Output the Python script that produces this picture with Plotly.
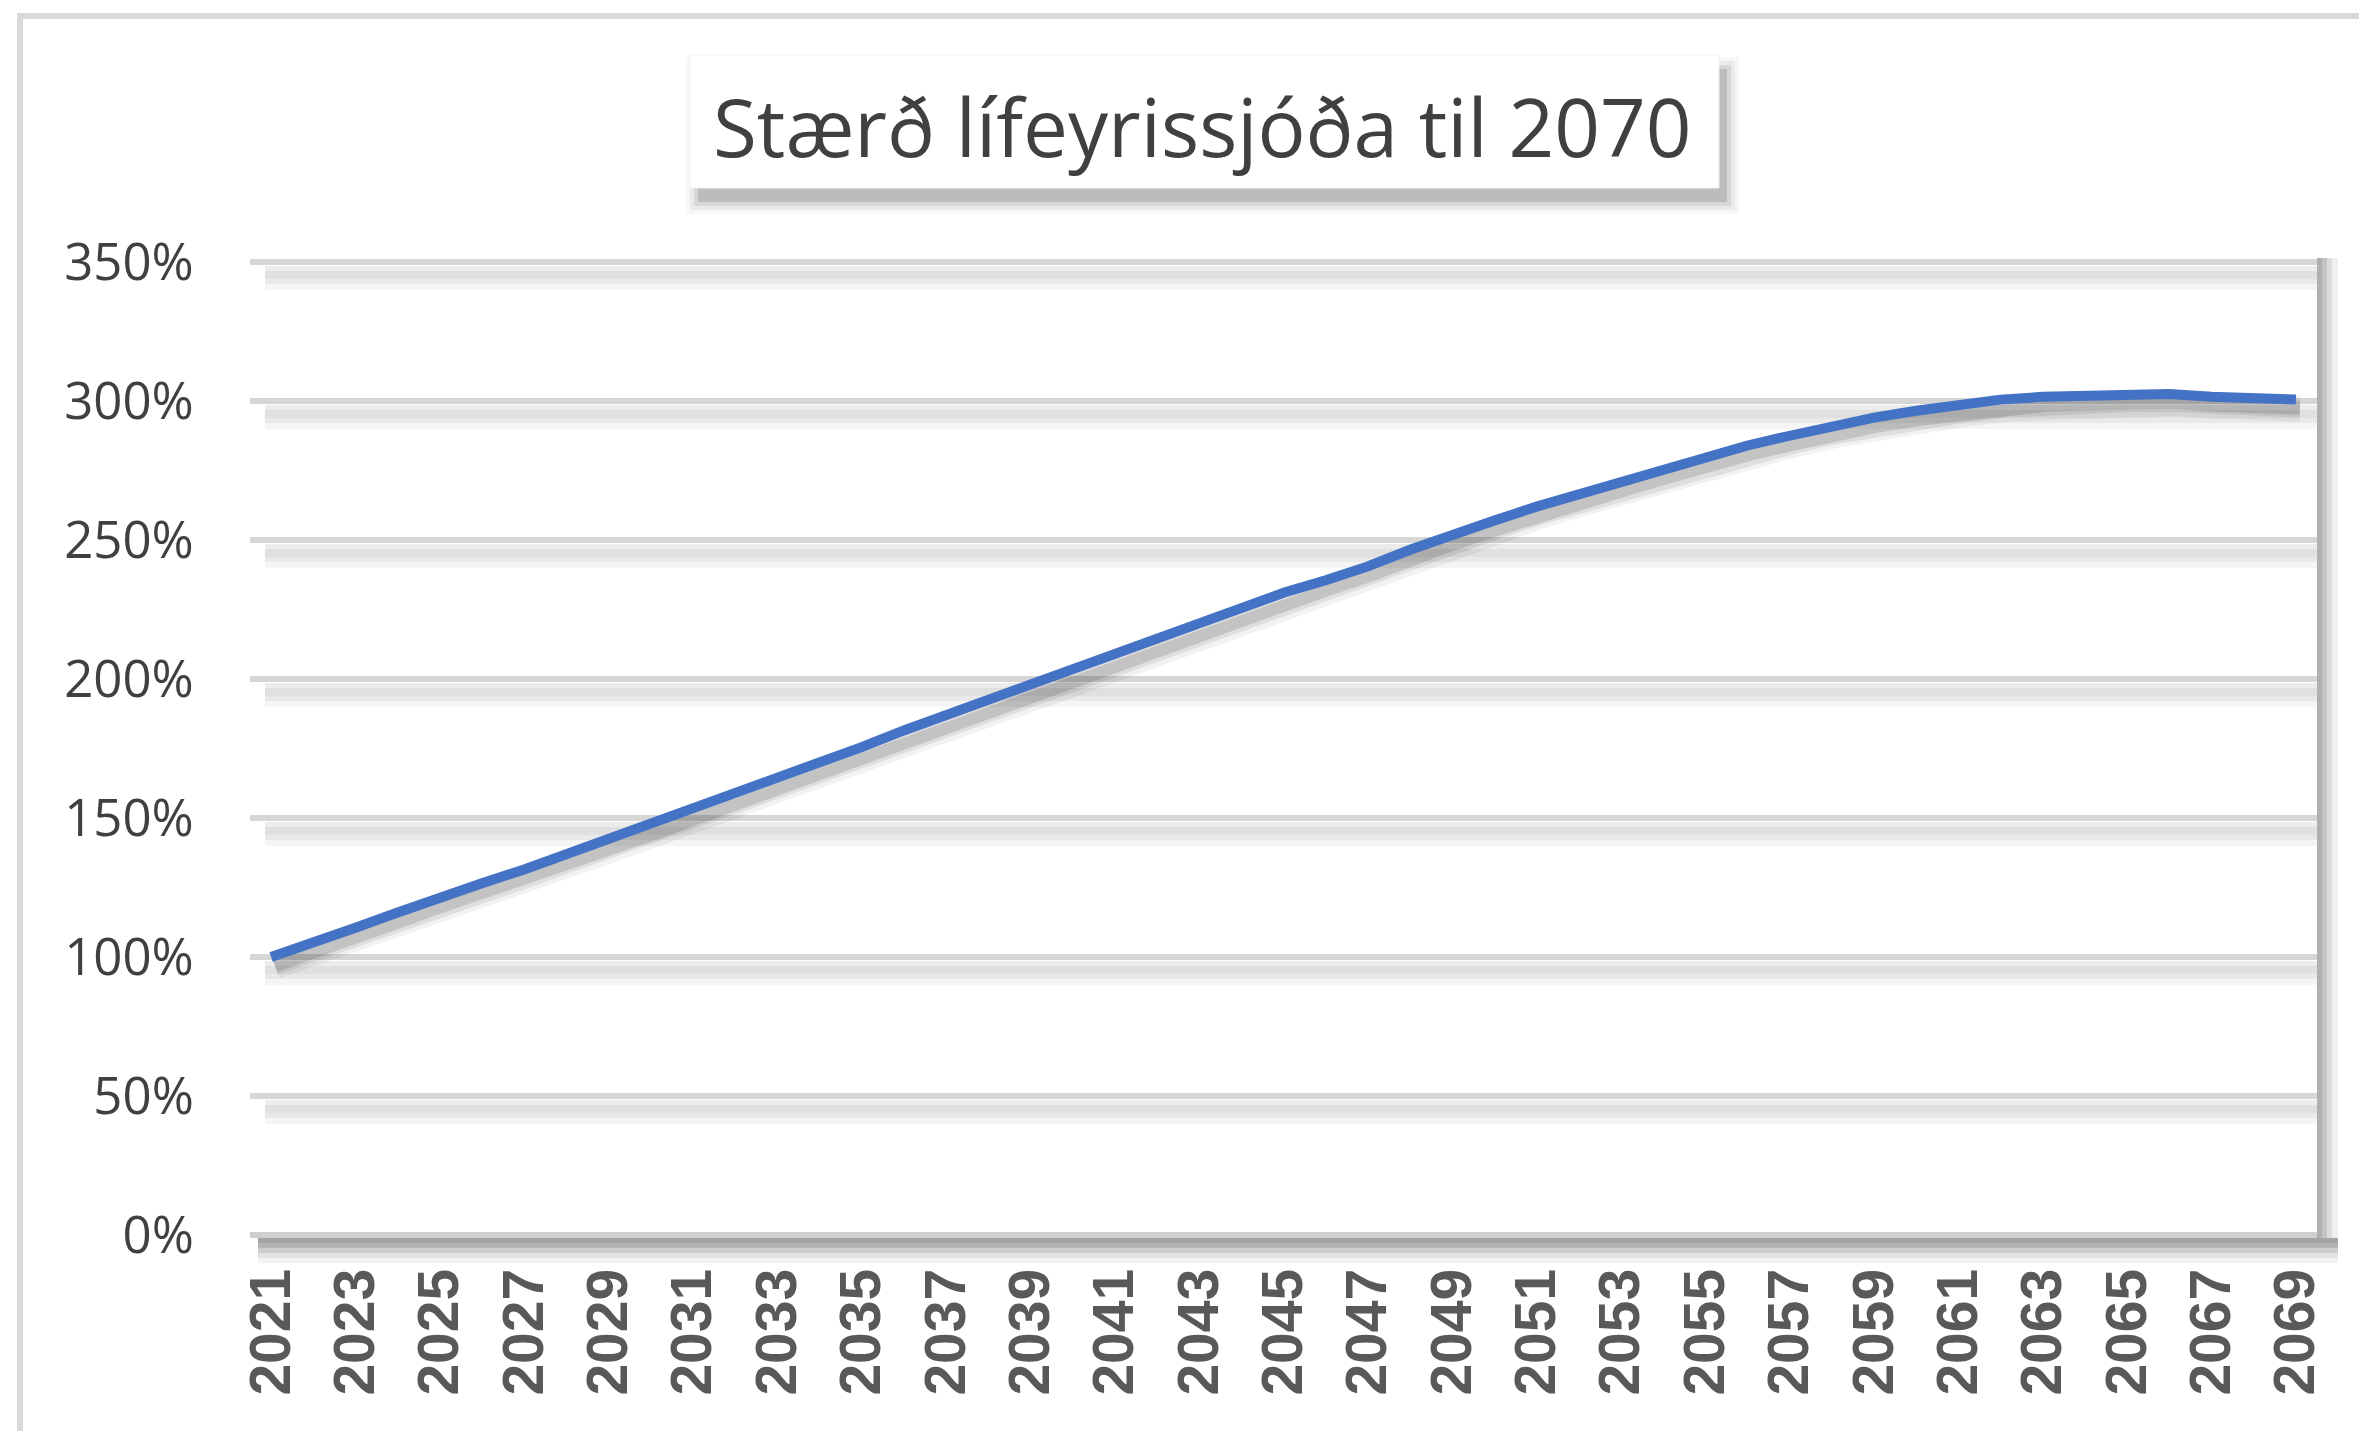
import plotly.graph_objects as go

# ---------------- data ----------------
years = list(range(2021, 2070))
fund_size_pct = [100, 105, 110.5, 116, 121.5, 126.5, 131.5, 137, 142, 147.5,
                 153, 158.5, 164, 169.5, 175.5, 181.5, 187, 192.5, 198, 203.5,
                 209, 214.5, 220, 225.5, 231, 235.5, 240.5, 246.5, 252, 257,
                 262, 266.5, 271, 275.5, 280, 284, 287.5, 291, 294, 296.5,
                 298.5, 300.5, 301.5, 302, 302.5, 302.5, 301.5, 301, 300.5]
x_tick_years = [2021, 2023, 2025, 2027, 2029, 2031, 2033, 2035, 2037, 2039,
                2041, 2043, 2045, 2047, 2049, 2051, 2053, 2055, 2057, 2059,
                2061, 2063, 2065, 2067, 2069]
x_tick_labels = [str(y) for y in x_tick_years]
y_tick_vals = [0, 50, 100, 150, 200, 250, 300, 350]
y_tick_labels = ["0%", "50%", "100%", "150%", "200%", "250%", "300%", "350%"]
title_text = "Stærð lífeyrissjóða til 2070"

# ---------------- geometry (reference pixel coords) ----------------
VIEW_W, VIEW_H = 2367, 1431
BODY = 8                       # default page margin of the html body
W_FIG, H_FIG = VIEW_W - BODY, VIEW_H - BODY
L, R_PLOT, T, B_PLOT = 250, 2317, 262, 1235
DX, DY = 4, 9                  # line-shadow offset in px
W = R_PLOT - L
H = B_PLOT - T
Wt, Ht = W + DX, H + DY


def px(xpix):
    return (xpix - L) / Wt


def py(ypix):
    return (B_PLOT + DY - ypix) / Ht


BLUE = "#4472C4"
fig = go.Figure()

# line shadow (offset hidden axes)
for w, a in [(26, 0.05), (18, 0.08), (12, 0.12)]:
    fig.add_trace(go.Scatter(x=years, y=fund_size_pct, mode="lines",
                             line=dict(color=f"rgba(0,0,0,{a})", width=w),
                             xaxis="x", yaxis="y", hoverinfo="skip",
                             showlegend=False))
# main line
fig.add_trace(go.Scatter(x=years, y=fund_size_pct, mode="lines",
                         line=dict(color=BLUE, width=10),
                         xaxis="x2", yaxis="y2", showlegend=False))

shapes = []
# outer border (top and left)
shapes.append(dict(type="line", xref="paper", yref="paper", layer="below",
                   x0=px(17), x1=px(2400), y0=py(16), y1=py(16),
                   line=dict(color="#d9d9d9", width=6)))
shapes.append(dict(type="line", xref="paper", yref="paper", layer="below",
                   x0=px(20), x1=px(20), y0=py(13), y1=py(1450),
                   line=dict(color="#d9d9d9", width=6)))

# plot-area right shadow
for x0, x1, c in [(2317, 2322, "#b0b0b0"), (2322, 2327, "#c4c4c4"),
                  (2327, 2332, "#dcdcdc"), (2332, 2338, "#f0f0f0")]:
    shapes.append(dict(type="rect", xref="paper", yref="paper", layer="below",
                       x0=px(x0), x1=px(x1), y0=py(258), y1=py(1252),
                       fillcolor=c, line=dict(width=0)))

# gridlines with soft shadow
GRID_BANDS = [(4, 9, "#ececec"), (9, 17, "#e0e0e0"), (17, 22, "#e9e9e9"),
              (22, 28, "#f5f5f5")]
AXIS_BANDS = [(3, 8, "#a4a4a4"), (8, 13, "#b4b4b4"), (13, 18, "#cdcdcd"),
              (18, 23, "#e3e3e3"), (23, 28, "#f3f3f3")]
for v in y_tick_vals:
    if v == y_tick_vals[0] or v == y_tick_vals[-1]:
        # the range ends coincide with the plot-area edges
        edge = B_PLOT if v == y_tick_vals[0] else T
        bands = AXIS_BANDS if v == y_tick_vals[0] else GRID_BANDS
        gcol = "#cfcfcf" if v == y_tick_vals[0] else "#d6d6d6"
        xs0 = 258 if v == y_tick_vals[0] else 265
        xe = 2338 if v == y_tick_vals[0] else R_PLOT
        for o0, o1, c in bands:
            shapes.append(dict(type="rect", xref="paper", yref="paper",
                               layer="below", x0=px(xs0), x1=px(xe),
                               y0=py(edge + o0), y1=py(edge + o1),
                               fillcolor=c, line=dict(width=0)))
        shapes.append(dict(type="line", xref="paper", yref="paper",
                           layer="below", x0=px(L), x1=px(R_PLOT),
                           y0=py(edge), y1=py(edge),
                           line=dict(color=gcol, width=6)))
    else:
        for o0, o1, c in GRID_BANDS:
            shapes.append(dict(type="rect", xref="paper", yref="y2",
                               layer="below", ysizemode="pixel", yanchor=v,
                               y0=-o0, y1=-o1, x0=px(265), x1=px(R_PLOT),
                               fillcolor=c, line=dict(width=0)))
        shapes.append(dict(type="line", xref="paper", yref="y2",
                           layer="below", x0=px(L), x1=px(R_PLOT),
                           y0=v, y1=v, line=dict(color="#d6d6d6", width=6)))

# title box with shadow
BX0, BX1, BY0, BY1 = 690, 1719, 55, 188
for e, a in [(12, 0.03), (8, 0.05), (4, 0.08), (0, 0.12)]:
    shapes.append(dict(type="rect", xref="paper", yref="paper", layer="below",
                       x0=px(BX0 + 8 - e), x1=px(BX1 + 8 + e),
                       y0=py(BY0 + 14 - e), y1=py(BY1 + 14 + e),
                       fillcolor=f"rgba(0,0,0,{a})", line=dict(width=0)))
shapes.append(dict(type="rect", xref="paper", yref="paper", layer="below",
                   x0=px(BX0), x1=px(BX1), y0=py(BY0), y1=py(BY1),
                   fillcolor="white", line=dict(color="#f2f2f2", width=1)))

fig.add_annotation(text=title_text, xref="paper", yref="paper",
                   x=px(1202), y=py(125), xanchor="center", yanchor="middle",
                   showarrow=False,
                   font=dict(family="Open Sans", size=80, color="#404040"))

xrange = [2020.5, 2069.5]
fig.update_layout(
    width=W_FIG, height=H_FIG,
    margin=dict(l=L - BODY, r=VIEW_W - (R_PLOT + DX), t=T - BODY,
                b=VIEW_H - (B_PLOT + DY), pad=0, autoexpand=False),
    paper_bgcolor="white", plot_bgcolor="rgba(0,0,0,0)",
    shapes=shapes, showlegend=False,
    xaxis=dict(domain=[DX / Wt, 1], range=xrange, visible=False,
               anchor="y", fixedrange=True),
    yaxis=dict(domain=[0, H / Ht], range=[0, 350], visible=False,
               anchor="x", fixedrange=True),
    xaxis2=dict(domain=[0, W / Wt], range=xrange, anchor="y2",
                tickmode="array", tickvals=x_tick_years,
                ticktext=x_tick_labels, tickangle=-90,
                ticks="outside", ticklen=10, tickcolor="rgba(0,0,0,0)",
                showgrid=False, zeroline=False, showline=False,
                tickfont=dict(family="Liberation Sans", size=57,
                              color="#595959", weight="bold")),
    yaxis2=dict(domain=[DY / Ht, 1], range=[0, 350], anchor="x2",
                tickmode="array", tickvals=y_tick_vals,
                ticktext=y_tick_labels,
                ticks="outside", ticklen=45, tickcolor="rgba(0,0,0,0)",
                showgrid=False, zeroline=False, showline=False,
                tickfont=dict(family="Open Sans", size=51, color="#404040")),
)

fig.write_html("out.html")
